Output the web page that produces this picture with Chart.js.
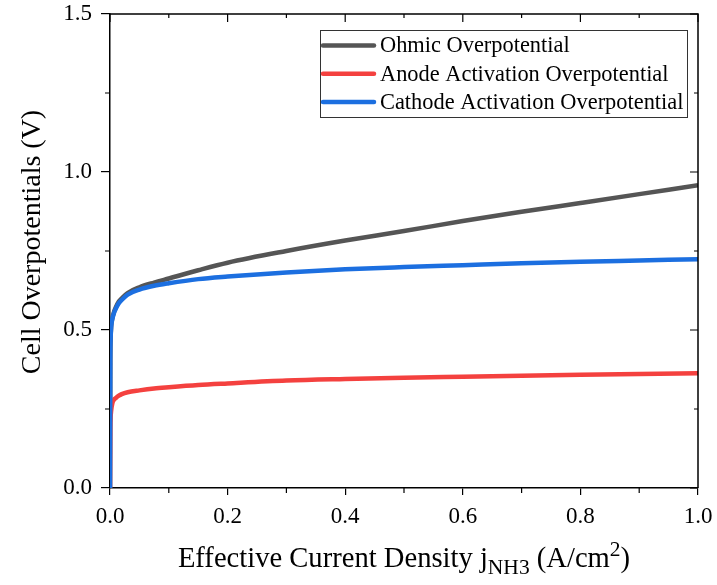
<!DOCTYPE html>
<html>
<head>
<meta charset="utf-8">
<script src="https://cdn.jsdelivr.net/npm/chart.js@4"></script>
<style>
  html,body{margin:0;padding:0;background:#fff;}
  #wrap{width:717px;height:585px;}
</style>
</head>
<body>
<div id="wrap"><canvas id="c" width="717" height="585"></canvas></div>
<script>
// ---- data ----
const currentDensity = [0, 0.0005, 0.001, 0.002, 0.004, 0.007, 0.01, 0.015, 0.02, 0.03, 0.05, 0.075, 0.1, 0.15, 0.2, 0.3, 0.4, 0.5, 0.6, 0.7, 0.8, 0.9, 1.0];
const ohmic   = [0, 0.40, 0.47, 0.512, 0.537, 0.558, 0.572, 0.590, 0.600, 0.617, 0.635, 0.650, 0.663, 0.689, 0.713, 0.750, 0.783, 0.813, 0.845, 0.874, 0.902, 0.930, 0.958];
const anode   = [0, 0.18, 0.22, 0.245, 0.268, 0.280, 0.285, 0.292, 0.297, 0.303, 0.309, 0.315, 0.319, 0.326, 0.331, 0.340, 0.345, 0.349, 0.352, 0.355, 0.358, 0.361, 0.363];
const cathode = [0, 0.40, 0.47, 0.510, 0.535, 0.555, 0.568, 0.585, 0.595, 0.612, 0.628, 0.640, 0.648, 0.661, 0.669, 0.682, 0.692, 0.699, 0.705, 0.711, 0.716, 0.720, 0.724];
const seriesNames = ['Ohmic Overpotential', 'Anode Activation Overpotential', 'Cathode Activation Overpotential'];
const seriesColors = ['#555555', '#F4413F', '#1C6FE0'];
const xTitleMain = 'Effective Current Density j';
const xTitleSub = 'NH3';
const xTitleRest = ' (A/cm';
const xTitleSup = '2';
const xTitleEnd = ')';
const yTitle = 'Cell Overpotentials (V)';
const xMinorTicks = [0.1, 0.3, 0.5, 0.7, 0.9];
const yMinorTicks = [0.25, 0.75, 1.25];

const SERIF = '"Liberation Serif", "Times New Roman", serif';

function pts(ys){ return currentDensity.map((x,i)=>({x:x, y:ys[i]})); }

const framePlugin = {
  id: 'frame',
  afterDraw(chart){
    const ctx = chart.ctx;
    const a = chart.chartArea;
    const xs = chart.scales.x, ys = chart.scales.y;
    ctx.save();
    ctx.strokeStyle = '#000';
    ctx.lineWidth = 1.5;
    ctx.beginPath();
    ctx.moveTo(a.left, a.top); ctx.lineTo(a.right, a.top); ctx.lineTo(a.right, a.bottom);
    ctx.stroke();
    ctx.lineWidth = 1.2;
    ctx.beginPath();
    xs.ticks.forEach(t=>{
      const px = xs.getPixelForValue(t.value);
      ctx.moveTo(px, a.top); ctx.lineTo(px, a.top + 8);
    });
    xMinorTicks.forEach(v=>{
      const px = xs.getPixelForValue(v);
      ctx.moveTo(px, a.top); ctx.lineTo(px, a.top + 4);
      ctx.moveTo(px, a.bottom); ctx.lineTo(px, a.bottom + 5);
    });
    ys.ticks.forEach(t=>{
      const py = ys.getPixelForValue(t.value);
      ctx.moveTo(a.right, py); ctx.lineTo(a.right - 8, py);
    });
    yMinorTicks.forEach(v=>{
      const py = ys.getPixelForValue(v);
      ctx.moveTo(a.right, py); ctx.lineTo(a.right - 4, py);
      ctx.moveTo(a.left, py); ctx.lineTo(a.left - 5, py);
    });
    ctx.stroke();

    // legend
    const lx = 320, ly = 30, lw = 367, lh = 87;
    ctx.fillStyle = '#fff';
    ctx.fillRect(lx, ly, lw, lh);
    ctx.strokeStyle = '#333';
    ctx.lineWidth = 1;
    ctx.strokeRect(lx + 0.5, ly + 0.5, lw, lh);
    ctx.font = '22.4px ' + SERIF;
    ctx.textBaseline = 'middle';
    ctx.textAlign = 'left';
    seriesNames.forEach((n,i)=>{
      const yy = 45.5 + i*28.3;
      ctx.strokeStyle = seriesColors[i];
      ctx.lineWidth = 4.5;
      ctx.lineCap = 'round';
      ctx.beginPath(); ctx.moveTo(323, yy); ctx.lineTo(374, yy); ctx.stroke();
      ctx.fillStyle = '#000';
      ctx.fillText(n, 380, yy + 1);
    });

    // x title with subscript/superscript
    const big = '28.6px ' + SERIF, small = '21.5px ' + SERIF;
    ctx.font = big; const w1 = ctx.measureText(xTitleMain).width;
    ctx.font = small; const w2 = ctx.measureText(xTitleSub).width;
    ctx.font = big; const w3 = ctx.measureText(xTitleRest).width;
    ctx.font = small; const w4 = ctx.measureText(xTitleSup).width;
    ctx.font = big; const w5 = ctx.measureText(xTitleEnd).width;
    const total = w1 + w2 + w3 + w4 + w5;
    let x0 = (a.left + a.right)/2 - total/2;
    const base = 567;
    ctx.fillStyle = '#000';
    ctx.textBaseline = 'alphabetic';
    ctx.font = big; ctx.fillText(xTitleMain, x0, base); x0 += w1;
    ctx.font = small; ctx.fillText(xTitleSub, x0, base + 7); x0 += w2;
    ctx.font = big; ctx.fillText(xTitleRest, x0, base); x0 += w3;
    ctx.font = small; ctx.fillText(xTitleSup, x0, base - 11); x0 += w4;
    ctx.font = big; ctx.fillText(xTitleEnd, x0, base);

    // y title
    ctx.save();
    ctx.translate(40, 242);
    ctx.rotate(-Math.PI/2);
    ctx.font = '28px ' + SERIF;
    ctx.textAlign = 'center';
    ctx.textBaseline = 'alphabetic';
    ctx.fillText(yTitle, 0, 0);
    ctx.restore();
    ctx.restore();
  }
};

new Chart(document.getElementById('c'), {
  type: 'line',
  data: {
    datasets: [
      {label: seriesNames[0], data: pts(ohmic), borderColor: seriesColors[0], order: 3},
      {label: seriesNames[1], data: pts(anode), borderColor: seriesColors[1], order: 2},
      {label: seriesNames[2], data: pts(cathode), borderColor: seriesColors[2], order: 1}
    ]
  },
  options: {
    responsive: false,
    animation: false,
    devicePixelRatio: 1,
    layout: {autoPadding: false, padding: {top: 14, right: 19, left: 0, bottom: 0}},
    elements: {
      line: {borderWidth: 4.5, cubicInterpolationMode: 'monotone', fill: false},
      point: {radius: 0, hoverRadius: 0}
    },
    plugins: {legend: {display: false}, tooltip: {enabled: false}},
    scales: {
      x: {
        type: 'linear', min: 0, max: 1,
        afterFit(s){ s.height = 97; s.paddingLeft = 0; s.paddingRight = 0; },
        ticks: {stepSize: 0.2, padding: 8, color: '#000', font: {family: SERIF, size: 23},
          callback: v => v.toFixed(1), maxRotation: 0},
        grid: {display: true, drawOnChartArea: false, drawTicks: true, tickLength: 7, color: '#000', lineWidth: 1.2},
        border: {display: true, color: '#000', width: 1.5}
      },
      y: {
        type: 'linear', min: 0, max: 1.5,
        afterFit(s){ s.width = 110; s.paddingTop = 0; s.paddingBottom = 0; },
        ticks: {stepSize: 0.5, padding: 9, color: '#000', font: {family: SERIF, size: 23},
          callback: v => v.toFixed(1)},
        grid: {display: true, drawOnChartArea: false, drawTicks: true, tickLength: 9, color: '#000', lineWidth: 1.2},
        border: {display: true, color: '#000', width: 1.5}
      }
    }
  },
  plugins: [framePlugin]
});
</script>
</body>
</html>
